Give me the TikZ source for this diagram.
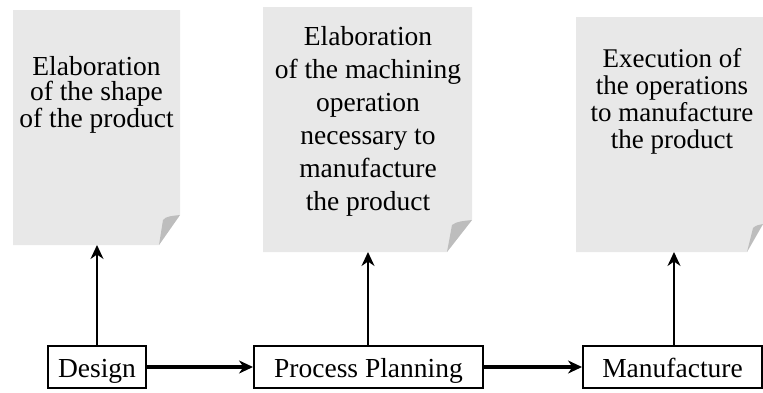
\documentclass[tikz,border=0pt]{standalone}
\usepackage{fontspec}
\setmainfont{Liberation Serif}
\usetikzlibrary{arrows.meta}
\definecolor{pagefill}{HTML}{E8E8E8}
\definecolor{foldfill}{HTML}{BDBDBD}
\tikzset{
  procbox/.style={draw=black, line width=2pt, fill=white, inner sep=0pt,
    minimum height=42pt, text height=22pt, text depth=2pt,
    font=\fontsize{27.5}{33}\selectfont},
  pagetext/.style={align=center, inner sep=0pt, anchor=base},
  uparrow/.style={line width=2pt, -{Stealth[length=14pt,width=13pt,inset=4.5pt]}},
  flowarrow/.style={line width=3.2pt, -{Stealth[length=14pt,width=13pt,inset=4.5pt]}},
  pagebody/.style={fill=pagefill},
  pagefold/.style={fill=foldfill}
}
\begin{document}
\begin{tikzpicture}[x=1pt,y=-1pt]
\useasboundingbox (0,0) rectangle (763,392);
% page 1
\fill[pagebody] (13,10) -- (180,10) -- (180,215) -- (159,245) -- (13,245) -- cycle;
\fill[pagefold] (180,215) .. controls (172,216) and (166,216) .. (163,220) -- (159,245) -- cycle;
\coordinate (p1b) at (97,245);
% page 2
\fill[pagebody] (263,7) -- (472,7) -- (472,220) -- (447,252) -- (263,252) -- cycle;
\fill[pagefold] (472,220) .. controls (464,221) and (457,221) .. (452,225) -- (447,252) -- cycle;
\coordinate (p2b) at (368,252);
% page 3
\fill[pagebody] (576,17) -- (763,17) -- (763,224) -- (747,252) -- (576,252) -- cycle;
\fill[pagefold] (763,224) .. controls (759,225) and (756,225) .. (753,228) -- (747,252) -- cycle;
\coordinate (p3b) at (674,252);
% page texts (anchor base = baseline of the last line)
\node[pagetext, font=\fontsize{27.5}{25}\selectfont] (t1) at (96.5,127)
  {Elaboration\\of the shape\\of the product};
\node[pagetext, font=\fontsize{27.5}{33}\selectfont] (t2) at (368,210)
  {Elaboration\\of the machining\\operation\\necessary to\\manufacture\\the product};
\node[pagetext, font=\fontsize{27}{26.7}\selectfont] (t3) at (672,148)
  {Execution of\\the operations\\to manufacture\\the product};
% process boxes
\node[procbox, minimum width=98pt] (design) at (97,367) {Design};
\node[procbox, minimum width=229pt] (plan) at (368.5,367) {Process Planning};
\node[procbox, minimum width=179pt] (manu) at (672.5,367) {Manufacture};
% connectors
\draw[uparrow] (design.north) -- (p1b);
\draw[uparrow] (plan.north -| p2b) -- (p2b);
\draw[uparrow] (manu.north -| p3b) -- (p3b);
\draw[flowarrow] (design.east) -- (plan.west);
\draw[flowarrow] (plan.east) -- (manu.west);
\end{tikzpicture}
\end{document}
